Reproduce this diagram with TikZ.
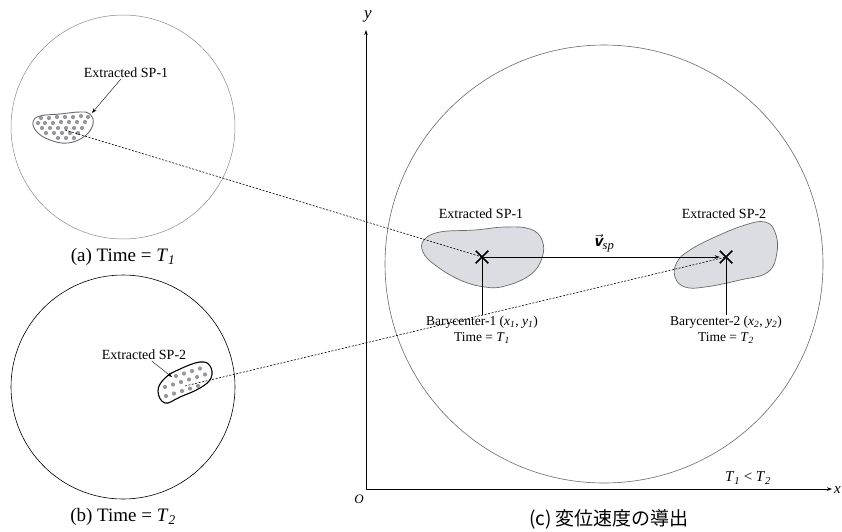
\documentclass[tikz,border=0pt]{standalone}
\usepackage{fontspec}
\setmainfont{Liberation Serif}
\newfontfamily\jpfont{Noto Sans CJK JP}
\usetikzlibrary{arrows.meta,positioning,shapes.misc}
\definecolor{blobgray}{RGB}{220,221,226}
\definecolor{edgegray}{RGB}{105,105,105}
\definecolor{dotgray}{RGB}{150,152,158}
\newcommand{\tsub}[2]{\textit{#1}\textsubscript{\textit{#2}}}

\begin{document}
\begin{tikzpicture}[x=1pt,y=-1pt,>={Stealth[length=5pt,width=3.5pt]},
  lbl/.style={font=\fontsize{14}{16}\selectfont,inner sep=1pt},
  captext/.style={font=\fontsize{19}{22}\selectfont},
  bary/.style={font=\fontsize{13.5}{16}\selectfont,align=center,inner sep=1pt},
  barymark/.style={draw,cross out,minimum size=11pt,line width=1.5pt,inner sep=0pt},
  dotline/.style={dash pattern=on 2pt off 1.5pt,line width=0.6pt}]

\useasboundingbox (0,0) rectangle (842,531);

% (a) Time = T1
\draw[edgegray!80,line width=0.5pt] (123,127) circle[radius=112];
\draw[edgegray,line width=0.9pt] plot[smooth cycle,tension=0.7] coordinates
  {(33,122) (40,116) (60,114) (80,112) (90,114) (93,124) (85,136) (68,143) (50,140) (37,132)};
\foreach \p in {(41,118),(49,118),(57,117),(65,117),(73,117),(81,116),(88,117),
                (38,123),(45,123),(53,123),(61,122),(69,122),(77,122),(85,122),
                (42,128),(50,128),(58,128),(66,128),(74,128),(82,128),
                (46,133),(54,133),(62,133),(70,133),(78,133),
                (58,138),(66,138),(74,138)}
  \fill[dotgray] \p circle[radius=2.1];
\coordinate (s1) at (65,130);
\coordinate (e1) at (92,113);
\node[lbl] (sp1a) at (126,73) {Extracted SP-1};
\draw[->] (sp1a) -- (e1);
\node[captext] (capa) at (123,257) {(a) Time = \tsub{T}{1}};

% (b) Time = T2
\draw[line width=0.6pt] (123,387) circle[radius=112];
\draw[line width=1.1pt] plot[smooth cycle,tension=0.7] coordinates
  {(158,391) (165,378) (180,369) (200,362) (210,366) (211,378) (200,388) (180,397) (165,403)};
\foreach \p in {(166,396),(174,393.5),(182,391),(190,388.5),(198,386),
                (165,387),(173,384.5),(181,382),(189,379.5),(197,377),(205,374.5),
                (176,376),(184,373.5),(192,371),(200,368.5)}
  \fill[dotgray] \p circle[radius=2.1];
\coordinate (s2) at (185,386);
\coordinate (e2) at (172,377);
\node[lbl] (sp2a) at (144,355) {Extracted SP-2};
\draw[->] (sp2a) -- (e2);
\node[captext] (capb) at (123,517) {(b) Time = \tsub{T}{2}};

% (c) axes
\coordinate (O) at (366,489);
\coordinate (ytip) at (366,30);
\coordinate (xtip) at (832,489);
\draw[line width=0.6pt,edgegray] (604,264) circle[radius=219];
\draw[->,line width=0.7pt] (O) -- (ytip);
\draw[->,line width=0.7pt] (O) -- (xtip);
\node[font=\fontsize{17}{20}\selectfont] (ylab) at (368,16) {\textit{y}};
\node[font=\fontsize{13}{15}\selectfont] (olab) at (359,499) {\textit{O}};
\node[font=\fontsize{15}{18}\selectfont,anchor=west,inner sep=0pt] (xlab) at (834,490) {\textit{x}};

% (c) extracted SPs
\draw[edgegray,fill=blobgray,line width=0.7pt] plot[smooth cycle,tension=0.7] coordinates
  {(424,240) (440,232) (475,230) (505,227) (530,229) (542,240) (542,258) (530,275)
   (505,286) (485,287) (460,280) (435,265) (423,252)};
\draw[edgegray,fill=blobgray,line width=0.7pt] plot[smooth cycle,tension=0.7] coordinates
  {(677,262) (690,250) (715,237) (745,225) (765,222) (775,232) (777,252) (768,272)
   (740,280) (705,287) (685,287) (675,277)};
\node[lbl] (sp1c) at (481,214) {Extracted SP-1};
\node[lbl] (sp2c) at (724,214) {Extracted SP-2};
\node[barymark] (b1) at (482,257) {};
\node[barymark] (b2) at (726,257) {};

\draw[dotline] (s1) -- (b1.center);
\draw[dotline] (s2) -- (b2.center);
\draw[->,line width=1pt] (b1.center) -- (b2.west);
\node[font=\fontsize{18}{20}\selectfont,inner sep=1pt] (vsp) at (604,243)
  {$\vec{\mbox{\sffamily\bfseries\itshape v}}$\textsubscript{\textit{sp}}};

\node[bary] (bc1) at (482,330) {Barycenter-1 (\tsub{x}{1}, \tsub{y}{1})\\Time = \tsub{T}{1}};
\node[bary] (bc2) at (726,330) {Barycenter-2 (\tsub{x}{2}, \tsub{y}{2})\\Time = \tsub{T}{2}};
\draw[line width=0.9pt] (b1.center) -- (bc1.north);
\draw[line width=0.9pt] (b2.center) -- (bc2.north);

\node[font=\fontsize{15}{18}\selectfont] (tlt) at (748,478) {\tsub{T}{1} < \tsub{T}{2}};
\node[font=\jpfont\fontsize{19}{22}\selectfont] (capc) at (609,519) {(c) 変位速度の導出};

\end{tikzpicture}
\end{document}
